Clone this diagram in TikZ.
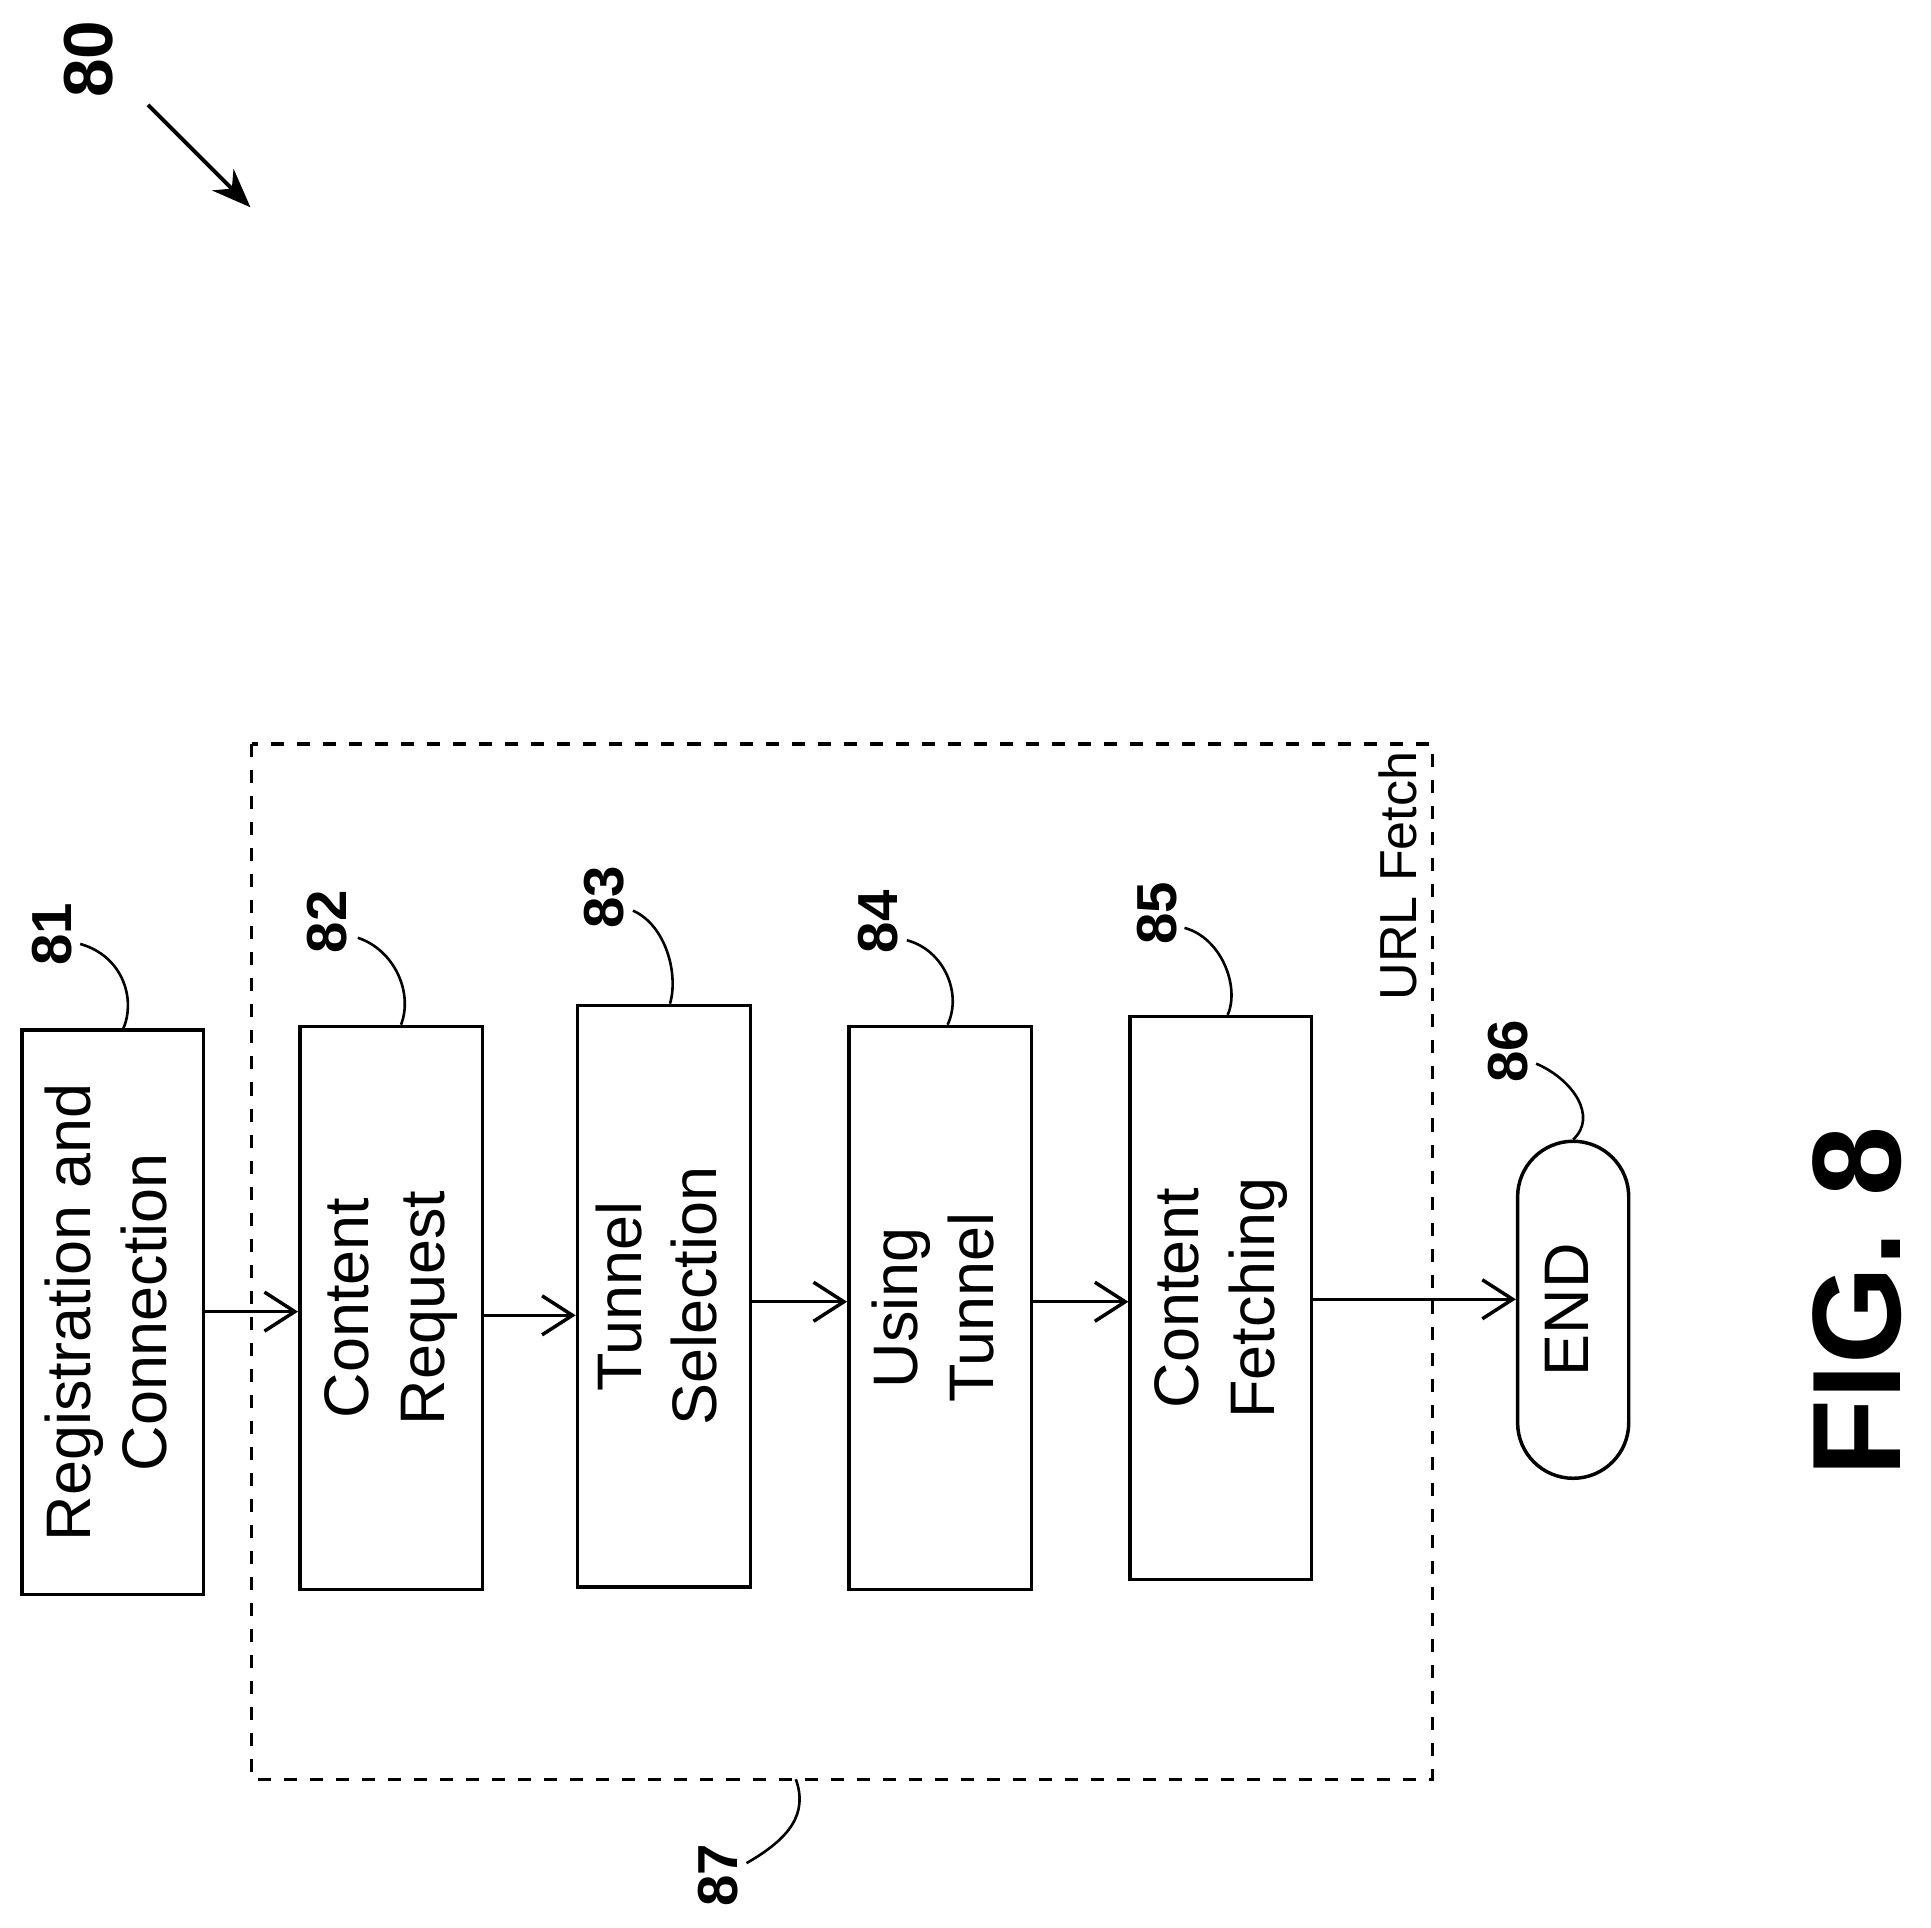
\documentclass[tikz,border=0pt]{standalone}
\usepackage{fontspec}
\setmainfont{Liberation Sans}
\usetikzlibrary{arrows.meta}
\begin{document}
\begin{tikzpicture}[x=0.01cm,y=-0.01cm,
 box/.style={draw,line width=0.8pt,inner sep=0pt,font=\fontsize{14.5}{17.5}\selectfont},
 lab/.style={font=\bfseries\fontsize{13}{15}\selectfont,rotate=90},
 lead/.style={line width=0.6pt},
 arr/.style={-{Straight Barb[length=7pt,width=9pt]},line width=0.8pt}]
\useasboundingbox (0,0) rectangle (1565,1562);
\newcommand{\rt}[1]{\rotatebox{90}{\begin{tabular}{@{}c@{}}#1\end{tabular}}}
\node[box,minimum width=1.47cm,minimum height=4.57cm] (b81) at (91.5,1063.5) {\rt{Registration and\\Connection}};
\node[box,minimum width=1.48cm,minimum height=4.56cm] (b82) at (317,1060) {\rt{Content\\Request}};
\node[box,minimum width=1.40cm,minimum height=4.71cm] (b83) at (538,1050.5) {\rt{Tunnel\\Selection}};
\node[box,minimum width=1.48cm,minimum height=4.56cm] (b84) at (762,1060) {\rt{Using\\Tunnel}};
\node[box,minimum width=1.47cm,minimum height=4.56cm] (b85) at (989.5,1052) {\rt{Content\\Fetching}};
\node[box,rounded corners=0.45cm,minimum width=0.9cm,minimum height=2.73cm] (end) at (1275,1061.5) {\rt{END}};
\draw[dashed,line width=0.8pt] (204,603) rectangle (1161,1442);
\node[rotate=90,font=\fontsize{12}{14}\selectfont] (url) at (1133,710) {URL Fetch};
\draw[arr] (b81.east |- 0,1063) -- (b82.west |- 0,1063);
\draw[arr] (b82.east |- 0,1066) -- (b83.west |- 0,1066);
\draw[arr] (b83.east |- 0,1055) -- (b84.west |- 0,1055);
\draw[arr] (b84.east |- 0,1055) -- (b85.west |- 0,1055);
\draw[arr] (b85.east |- 0,1053) -- (end.west |- 0,1053);
\node[lab] (l81) at (42,757) {81};
\draw[lead] (65,765) .. controls (100,775) and (110,810) .. (b81.north -| 100,0);
\node[lab] (l82) at (265,747) {82};
\draw[lead] (290,760) .. controls (320,770) and (335,805) .. (b82.north -| 325,0);
\node[lab] (l83) at (490,727) {83};
\draw[lead] (513,738) .. controls (540,750) and (550,790) .. (b83.north -| 543,0);
\node[lab] (l84) at (712,747) {84};
\draw[lead] (735,762) .. controls (765,770) and (780,805) .. (b84.north -| 768,0);
\node[lab] (l85) at (938,740) {85};
\draw[lead] (960,752) .. controls (990,760) and (1005,800) .. (b85.north -| 995,0);
\node[lab] (l86) at (1222,852) {86};
\draw[lead] (1245,862) .. controls (1275,875) and (1295,905) .. (end.north);
\node[lab] (l87) at (582,1520) {87};
\coordinate (c87) at (645,1442);
\draw[lead] (605,1510) .. controls (640,1490) and (655,1470) .. (c87);
\node[lab,font=\bfseries\fontsize{16}{18}\selectfont] (l80) at (72,48) {80};
\coordinate (a80) at (203,168);
\draw[-{Stealth[length=9pt,width=7pt]},line width=0.9pt] (120,85) -- (a80);
\node[rotate=90,font=\bfseries\fontsize{29}{33}\selectfont] (fig) at (1505,1055) {FIG. 8};
\end{tikzpicture}
\end{document}
